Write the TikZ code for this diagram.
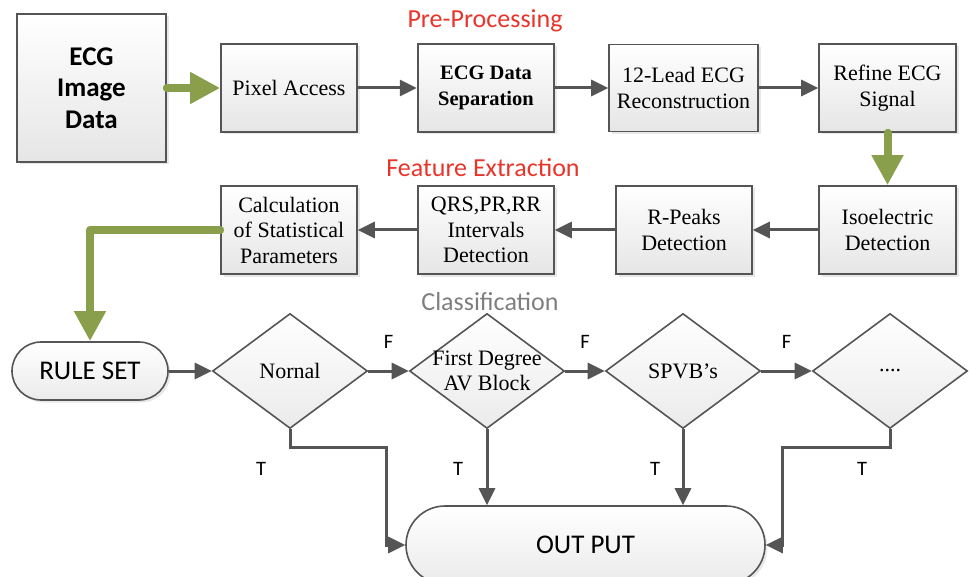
\documentclass[tikz,border=0pt]{standalone}
\usepackage{fontspec}
\setmainfont{Liberation Serif}
\newfontfamily\calibri{Carlito}
\usetikzlibrary{shapes.geometric,arrows.meta,shadows}

\definecolor{boxline}{HTML}{555555}
\definecolor{flowgreen}{HTML}{8A9F4B}
\definecolor{stagered}{HTML}{E8352B}
\definecolor{stagegray}{HTML}{7F7F7F}

\tikzset{
  box/.style={rectangle, draw=boxline, line width=1.6pt, top color=white, bottom color=black!10,
    drop shadow={shadow xshift=2.5pt, shadow yshift=-2.5pt, opacity=0.18},
    minimum width=136pt, minimum height=88pt, align=center, inner sep=2pt,
    font=\fontsize{22}{25.5}\selectfont},
  dia/.style={diamond, draw=boxline, line width=1.6pt, top color=white, bottom color=black!8,
    minimum width=155pt, minimum height=115pt, inner sep=0pt},
  dtext/.style={align=center, font=\fontsize{22}{25.5}\selectfont},
  term/.style={rectangle, draw=boxline, line width=1.6pt, top color=white, bottom color=black!8,
    drop shadow={shadow xshift=2.5pt, shadow yshift=-2.5pt, opacity=0.18},
    font=\calibri\fontsize{27}{30}\selectfont},
  arr/.style={draw=boxline, line width=3pt, -{Triangle[length=17pt,width=16pt]}},
  garr/.style={draw=flowgreen, line width=8pt, line cap=round, line join=round,
    -{Triangle[length=30pt,width=30pt]}},
  stage/.style={font=\calibri\fontsize{26}{30}\selectfont},
  tf/.style={font=\calibri\fontsize{20.5}{22}\selectfont},
}

\begin{document}
\begin{tikzpicture}[x=1pt,y=-1pt]

  \useasboundingbox (0,0) rectangle (971,577);

  % first row
  \node[box, minimum width=149pt, minimum height=148pt,
        font=\calibri\bfseries\fontsize{27}{31.5}\selectfont] (img) at (91.5,88) {ECG\\Image\\Data};
  \node[box] (pix) at (289,88) {Pixel Access};
  \node[box, line width=2.4pt, font=\bfseries\fontsize{20.5}{25.5}\selectfont] (sep) at (486,88) {ECG Data\\Separation};
  \node[box, minimum width=149pt, minimum height=87pt] (lead) at (683.5,88) {12-Lead ECG\\Reconstruction};
  \node[box, minimum width=137pt] (ref) at (887.5,88) {Refine ECG\\Signal};

  % second row
  \node[box, minimum width=137pt] (iso) at (887.5,230) {Isoelectric\\Detection};
  \node[box] (rpk) at (684,230) {R-Peaks\\Detection};
  \node[box] (qrs) at (486,230) {QRS,PR,RR\\Intervals\\Detection};
  \node[box] (calc) at (289,230) {Calculation\\of Statistical\\Parameters};

  % stage titles
  \node[stage, text=stagered] at (485,21) {Pre-Processing};
  \node[stage, text=stagered] at (483,168) {Feature Extraction};
  \node[stage, text=stagegray] at (490,302) {Classification};

  % classification row
  \node[term, minimum width=156pt, minimum height=58pt, rounded corners=29pt] (rule) at (90,371) {RULE SET};
  \node[dia, label={[dtext]center:Nornal}] (nor) at (290,371) {};
  \node[dia, label={[dtext]center:First Degree\\AV Block}] (fdg) at (487,371) {};
  \node[dia, label={[dtext]center:SPVB’s}] (spv) at (683,371) {};
  \node[dia, label={[dtext]center:....}] (dots) at (890,371) {};
  \node[term, minimum width=359pt, minimum height=78pt, rounded corners=39pt] (out) at (585.5,545) {OUT PUT};

  % connectors
  \draw[garr] (img) -- (pix);
  \draw[arr] (pix) -- (sep);
  \draw[arr] (sep) -- (lead);
  \draw[arr] (lead) -- (ref);
  \draw[garr] (ref) -- (iso);
  \draw[arr] (iso) -- (rpk);
  \draw[arr] (rpk) -- (qrs);
  \draw[arr] (qrs) -- (calc);
  \draw[garr] (calc.west) -| (rule.north);

  \draw[arr] (rule) -- (nor);
  \draw[arr] (nor) -- node[tf, yshift=29pt] {F} (fdg);
  \draw[arr] (fdg) -- node[tf, yshift=29pt] {F} (spv);
  \draw[arr] (spv) -- node[tf, yshift=29pt] {F} (dots);

  \draw[arr] (nor.south) -- ++(0,18) -| ([xshift=-19pt]out.west) -- (out.west);
  \draw[arr] (fdg.south) -- (fdg.south |- out.north);
  \draw[arr] (spv.south) -- (spv.south |- out.north);
  \draw[arr] (dots.south) -- ++(0,18) -| ([xshift=17pt]out.east) -- (out.east);

  \begin{scope}[tf]
    \node at (261,469) {T};
    \node at (458,469) {T};
    \node at (655,469) {T};
    \node at (862,469) {T};
  \end{scope}

\end{tikzpicture}
\end{document}
